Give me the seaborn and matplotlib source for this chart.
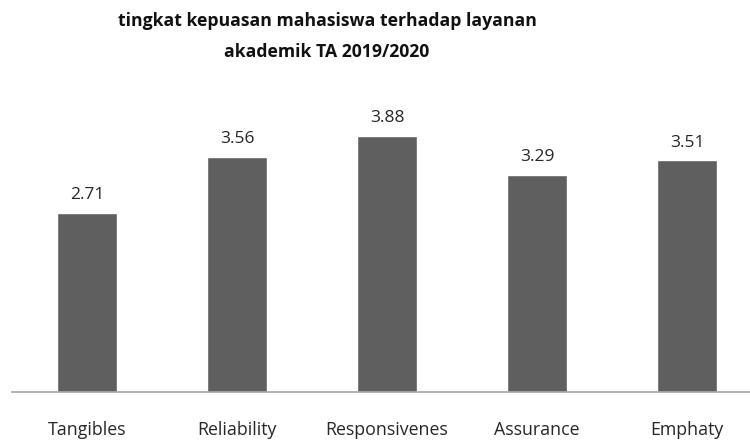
import numpy as np
import pandas as pd
import seaborn as sns
import matplotlib.pyplot as plt

# data
categories = ['Tangibles', 'Reliability', 'Responsivenes', 'Assurance', 'Emphaty']
scores = [2.71, 3.56, 3.88, 3.29, 3.51]

df = pd.DataFrame({'kategori': categories, 'skor': scores})

sns.set_theme(style='white')
plt.rcParams['font.family'] = ['Open Sans', 'DejaVu Sans']

fig = plt.figure(figsize=(7.5, 4.41), dpi=100)
ax = fig.add_axes([12 / 750, 49 / 441, 738 / 750, 297 / 441])

sns.barplot(data=df, x='kategori', y='skor', color='#5f5f5f', width=0.4,
            saturation=1, ax=ax)

ax.set_xlim(-0.5, 4.42)
ax.set_ylim(0, 4.5)

for c in ax.containers:
    ax.bar_label(c, labels=[f'{v:.2f}' for v in scores], padding=7,
                 fontsize=12.5, color='#262626')

ax.set_xlabel('')
ax.set_ylabel('')
ax.set_yticks([])
ax.tick_params(axis='x', length=0, pad=21, labelsize=12.8, labelcolor='#262626')
for s in ['top', 'right', 'left']:
    ax.spines[s].set_visible(False)
ax.spines['bottom'].set_color('#a6a6a6')
ax.spines['bottom'].set_linewidth(1.2)

fig.text(0.436, 0.972, 'tingkat kepuasan mahasiswa terhadap layanan\nakademik TA 2019/2020',
         ha='center', va='top', fontsize=12.7, fontweight='bold',
         color='#111111', linespacing=1.9)

fig.savefig('out.png', dpi=100)
